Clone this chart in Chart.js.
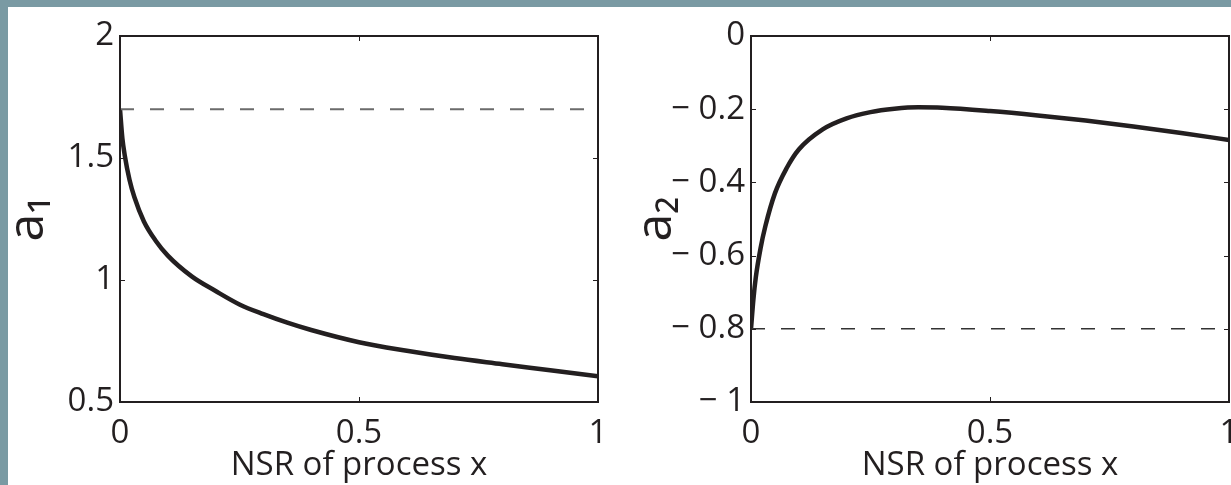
<!DOCTYPE html>
<html>
<head>
<meta charset="utf-8">
<script src="https://cdn.jsdelivr.net/npm/chart.js@4"></script>
<style>
  html, body { margin: 0; padding: 0; }
  body { width: 1231px; height: 485px; background: #7a9aa3; position: relative; overflow: hidden; }
  .panel { position: absolute; left: 8px; top: 7px; width: 1223px; height: 478px; background: #fff; }
  .box { position: absolute; top: 7px; height: 478px; }
  #left { left: 8px; width: 607px; }
  #right { left: 615px; width: 616px; }
</style>
</head>
<body>
<div class="panel"></div>
<div class="box" id="left"><canvas id="chartA1"></canvas></div>
<div class="box" id="right"><canvas id="chartA2"></canvas></div>
<script>
// data
const nsr = [0, 0.005, 0.01, 0.02, 0.03, 0.05, 0.075, 0.1, 0.15, 0.2, 0.25, 0.3, 0.35, 0.4, 0.5, 0.6, 0.7, 0.8, 0.9, 1.0];
const a1 = [1.70, 1.58, 1.51, 1.41, 1.34, 1.24, 1.16, 1.10, 1.015, 0.955, 0.90, 0.86, 0.825, 0.795, 0.745, 0.71, 0.68, 0.655, 0.63, 0.605];
const a2 = [-0.80, -0.72, -0.66, -0.58, -0.52, -0.43, -0.36, -0.31, -0.255, -0.225, -0.208, -0.199, -0.195, -0.196, -0.205, -0.217, -0.231, -0.247, -0.265, -0.284];
const a1Ref = 1.7;
const a2Ref = -0.8;

const xTicks = [0, 0.5, 1];
const xTickLabels = ['0', '0.5', '1'];
const a1Ticks = [0.5, 1, 1.5, 2];
const a1TickLabels = ['0.5', '1', '1.5', '2'];
const a2Ticks = [-1, -0.8, -0.6, -0.4, -0.2, 0];
const a2TickLabels = ['\u2212 1', '\u2212 0.8', '\u2212 0.6', '\u2212 0.4', '\u2212 0.2', '0'];

const FONT = "'Open Sans', 'DejaVu Sans', sans-serif";
const INK = '#231f20';

// box round the plot plus small inward ticks
const frame = {
  id: 'frame',
  afterDraw(chart) {
    const { ctx, chartArea: a, scales } = chart;
    ctx.save();
    ctx.strokeStyle = INK;
    ctx.lineWidth = 1;
    scales.y.ticks.forEach(t => {
      const py = Math.round(scales.y.getPixelForValue(t.value)) + 0.5;
      ctx.beginPath();
      ctx.moveTo(a.left, py); ctx.lineTo(a.left + 5, py);
      ctx.moveTo(a.right, py); ctx.lineTo(a.right - 5, py);
      ctx.stroke();
    });
    scales.x.ticks.forEach(t => {
      const px = Math.round(scales.x.getPixelForValue(t.value)) + 0.5;
      ctx.beginPath();
      ctx.moveTo(px, a.bottom); ctx.lineTo(px, a.bottom - 5);
      ctx.moveTo(px, a.top); ctx.lineTo(px, a.top + 5);
      ctx.stroke();
    });
    ctx.lineWidth = 2;
    ctx.strokeRect(a.left, a.top, a.right - a.left, a.bottom - a.top);
    ctx.restore();
  }
};

function makeChart(id, ys, ref, yMin, yMax, yTicks, yLabels, title, yWidth, titlePad, padRight, dash) {
  const pts = nsr.map((x, i) => ({ x: x, y: ys[i] }));
  return new Chart(document.getElementById(id), {
    type: 'line',
    data: {
      datasets: [
        {
          data: [{ x: 0, y: ref }, { x: 1, y: ref }],
          borderColor: dash.color,
          borderWidth: dash.width,
          borderDash: [14, 16],
          pointRadius: 0
        },
        {
          data: pts,
          borderColor: INK,
          borderWidth: 4.5,
          pointRadius: 0,
          cubicInterpolationMode: 'monotone'
        }
      ]
    },
    plugins: [frame],
    options: {
      responsive: true,
      maintainAspectRatio: false,
      animation: false,
      layout: { padding: { top: 29, right: padRight, left: 0, bottom: 0 } },
      plugins: { legend: { display: false }, tooltip: { enabled: false } },
      scales: {
        x: {
          type: 'linear',
          min: 0, max: 1,
          afterBuildTicks: s => { s.ticks = xTicks.map(v => ({ value: v })); },
          afterFit: s => { s.height = 83; s.paddingLeft = 0; s.paddingRight = 0; },
          grid: { display: false, drawTicks: false },
          border: { display: false },
          ticks: {
            color: INK,
            padding: 12,
            maxRotation: 0,
            font: { family: FONT, size: 33 },
            callback: v => xTickLabels[xTicks.indexOf(v)]
          },
          title: {
            display: true,
            text: 'NSR of process x',
            color: INK,
            padding: { top: -14, bottom: 0 },
            font: { family: FONT, size: 33 }
          }
        },
        y: {
          type: 'linear',
          min: yMin, max: yMax,
          afterBuildTicks: s => { s.ticks = yTicks.map(v => ({ value: v })); },
          afterFit: s => { s.width = yWidth; s.paddingTop = 0; s.paddingBottom = 0; },
          grid: { display: false, drawTicks: false },
          border: { display: false },
          ticks: {
            color: INK,
            padding: 6,
            font: { family: FONT, size: 33 },
            callback: v => yLabels[yTicks.indexOf(v)]
          },
          title: {
            display: true,
            text: title,
            color: INK,
            padding: { top: titlePad, bottom: 0 },
            font: { family: FONT, size: 50 }
          }
        }
      }
    }
  });
}

makeChart('chartA1', a1, a1Ref, 0.5, 2, a1Ticks, a1TickLabels, 'a\u2081', 112, -9, 17, { color: '#6b6b6b', width: 2 });
makeChart('chartA2', a2, a2Ref, -1, 0, a2Ticks, a2TickLabels, 'a\u2082', 136, 12, 2, { color: '#333', width: 1.5 });
</script>
</body>
</html>
